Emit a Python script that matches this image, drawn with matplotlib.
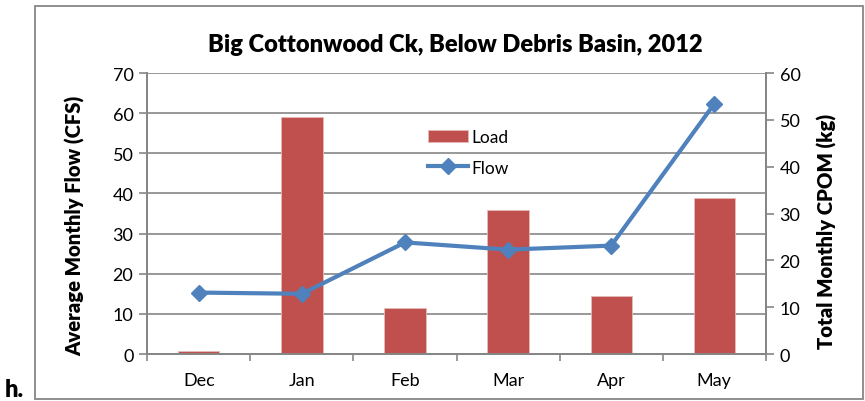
import matplotlib
matplotlib.use('Agg')
import matplotlib.pyplot as plt
from matplotlib.patches import Rectangle
import numpy as np

# data
months = ['Dec', 'Jan', 'Feb', 'Mar', 'Apr', 'May']
flow_cfs = [15.3, 15.0, 27.8, 26.0, 27.0, 62.3]      # left axis
load_kg = [0.64, 50.7, 9.8, 30.7, 12.45, 33.4]       # right axis

BAR_RED = '#C0504D'
LINE_BLUE = '#4F81BD'
GRID = '#868686'

plt.rcParams['font.family'] = ['Lato', 'DejaVu Sans']

fig = plt.figure(figsize=(8.65, 4.02), dpi=100)
ax = fig.add_axes([0.1703, 0.1169, 0.715, 0.699])
ax2 = ax.twinx()   # bars, CPOM scale
ax3 = ax.twinx()   # flow line, same scale as left axis

x = np.arange(len(months))

ax.set_xlim(-0.5, 5.5)
ax.set_ylim(0, 70)
ax.set_yticks(range(0, 71, 10))
ax.grid(axis='y', color=GRID, linewidth=1.2)
ax.set_xticks(np.arange(-0.5, 6, 1))
ax.set_xticklabels([])
ax.set_xticks(x, minor=True)
ax.set_xticklabels(months, minor=True)
ax.tick_params(axis='x', which='major', length=5, color=GRID, width=1.2)
ax.tick_params(axis='x', which='minor', length=0, pad=13, labelsize=13)
ax.tick_params(axis='y', length=6, color=GRID, width=1.2, labelsize=13, pad=4)
ax.set_ylabel('Average Monthly Flow (CFS)', fontsize=14.6, fontweight='heavy')
ax.yaxis.set_label_coords(-0.101, 0.46)

ax2.bar(x, load_kg, width=0.4, color=BAR_RED, edgecolor='#E6B9B8', linewidth=0.6,
        label='Load')
ax2.set_ylim(0, 60)
ax2.set_yticks(range(0, 61, 10))
ax2.tick_params(axis='y', length=6, color=GRID, width=1.2, labelsize=13, pad=4)
ax2.set_ylabel('Total Monthly CPOM (kg)', fontsize=14.6, fontweight='heavy')
ax2.yaxis.set_label_coords(1.083, 0.44)

ax3.plot(x, flow_cfs, color=LINE_BLUE, linewidth=3, marker='D', markersize=8.5,
         label='Flow')
ax3.set_ylim(0, 70)
ax3.set_yticks([])

for a in (ax, ax2, ax3):
    a.spines['top'].set_visible(False)
    for s in ('left', 'right', 'bottom'):
        a.spines[s].set_color(GRID)
        a.spines[s].set_linewidth(1.2)
    a.set_xlim(-0.5, 5.5)

fig.suptitle('Big Cottonwood Ck, Below Debris Basin, 2012', x=0.5265, y=0.915,
             fontsize=17, fontweight='heavy')

handles = ax2.get_legend_handles_labels()[0] + ax3.get_legend_handles_labels()[0]
fig.legend(handles, ['Load', 'Flow'], loc='upper left', bbox_to_anchor=(0.4765, 0.716),
           frameon=False, fontsize=12.5, handlelength=2.3, handletextpad=0.2,
           labelspacing=0.85)

# outer chart border and panel letter
fig.patches.append(Rectangle((0.041, 0.005), 0.957, 0.978, transform=fig.transFigure,
                             fill=False, edgecolor=GRID, linewidth=1.3))
fig.text(0.005, 0.012, 'h.', fontsize=17, fontweight='heavy')

fig.savefig('out.png', dpi=100)
